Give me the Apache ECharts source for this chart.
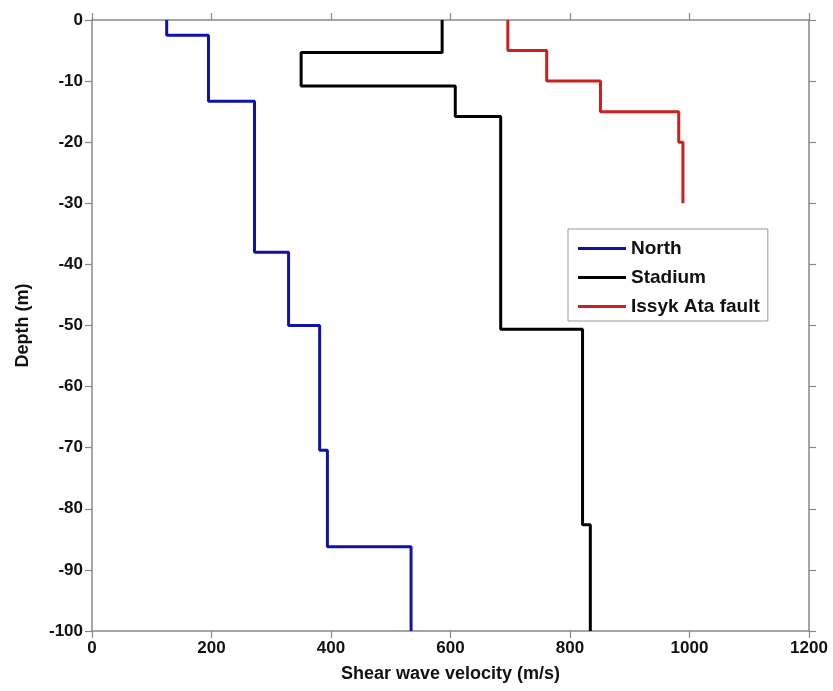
<!DOCTYPE html>
<html><head><meta charset="utf-8">
<script src="https://cdn.jsdelivr.net/npm/echarts@6/dist/echarts.min.js"></script>
<style>html,body{margin:0;padding:0;background:#fff}#c{width:833px;height:691px}</style>
</head><body><div id="c"></div>
<script>
var seriesNames = ['North', 'Stadium', 'Issyk Ata fault'];
// layer velocities (m/s) and layer bottom depths (m)
var northVs = [125, 195, 272, 329, 381, 394, 534];
var northBottom = [-2.5, -13.3, -38, -50, -70.4, -86.2, -100];
var stadiumVs = [586, 350, 608, 684, 821, 834];
var stadiumBottom = [-5.3, -10.8, -15.8, -50.6, -82.6, -100];
var issykVs = [696, 761, 851, 982, 989];
var issykBottom = [-5, -10, -15, -20, -30];
var xTicks = [0, 200, 400, 600, 800, 1000, 1200];
var yTicks = [0, -10, -20, -30, -40, -50, -60, -70, -80, -90, -100];

function profile(vs, bottoms) {
  var pts = [], top = 0;
  for (var i = 0; i < vs.length; i++) {
    pts.push([vs[i], top]);
    pts.push([vs[i], bottoms[i]]);
    top = bottoms[i];
  }
  return pts;
}
var colors = ['#1212a8', '#000000', '#cc1f1f'];
var font = '"Liberation Sans", Arial, sans-serif';
var axisLine = {show: true, onZero: false, lineStyle: {color: '#888', width: 1.5}};
var tick = {show: true, length: 7, lineStyle: {color: '#888', width: 1.2}};
var labelStyle = {fontFamily: font, fontWeight: 'bold', fontSize: 17, color: '#111', margin: 9,
  formatter: function (v) { return String(v); }};
var nameStyle = {fontFamily: font, fontWeight: 'bold', fontSize: 18, color: '#111'};
var chart = echarts.init(document.getElementById('c'));
chart.setOption({
  animation: false,
  backgroundColor: '#fff',
  grid: {left: 92, top: 20, right: 24, bottom: 60, containLabel: false},
  xAxis: [{
    type: 'value', min: xTicks[0], max: xTicks[xTicks.length - 1], interval: 200, position: 'bottom',
    name: 'Shear wave velocity (m/s)', nameLocation: 'middle', nameGap: 34,
    nameTextStyle: nameStyle,
    axisLine: axisLine, axisTick: tick, splitLine: {show: false},
    axisLabel: labelStyle
  }, {
    type: 'value', min: xTicks[0], max: xTicks[xTicks.length - 1], interval: 200, position: 'top',
    axisLine: axisLine, axisTick: tick, splitLine: {show: false}, axisLabel: {show: false}
  }],
  yAxis: [{
    type: 'value', min: yTicks[yTicks.length - 1], max: yTicks[0], interval: 10, position: 'left',
    name: 'Depth (m)', nameLocation: 'middle', nameGap: 60, nameRotate: 90,
    nameTextStyle: nameStyle,
    axisLine: axisLine, axisTick: tick, splitLine: {show: false},
    axisLabel: labelStyle
  }, {
    type: 'value', min: yTicks[yTicks.length - 1], max: yTicks[0], interval: 10, position: 'right',
    axisLine: axisLine, axisTick: tick, splitLine: {show: false}, axisLabel: {show: false}
  }],
  legend: {
    orient: 'vertical', left: 568, top: 229,
    backgroundColor: '#fff', borderColor: '#999', borderWidth: 1,
    padding: [10, 8, 5, 10], itemGap: 10,
    icon: 'rect', itemWidth: 48, itemHeight: 3,
    textStyle: {fontFamily: font, fontWeight: 'bold', fontSize: 19, color: '#111'},
    data: seriesNames
  },
  series: [
    {name: seriesNames[0], type: 'line', data: profile(northVs, northBottom), showSymbol: false, symbol: 'none',
      lineStyle: {color: colors[0], width: 3}, itemStyle: {color: colors[0]}, z: 3},
    {name: seriesNames[1], type: 'line', data: profile(stadiumVs, stadiumBottom), showSymbol: false, symbol: 'none',
      lineStyle: {color: colors[1], width: 3}, itemStyle: {color: colors[1]}, z: 3},
    {name: seriesNames[2], type: 'line', data: profile(issykVs, issykBottom), showSymbol: false, symbol: 'none',
      lineStyle: {color: colors[2], width: 3}, itemStyle: {color: colors[2]}, z: 3}
  ]
});
</script></body></html>
